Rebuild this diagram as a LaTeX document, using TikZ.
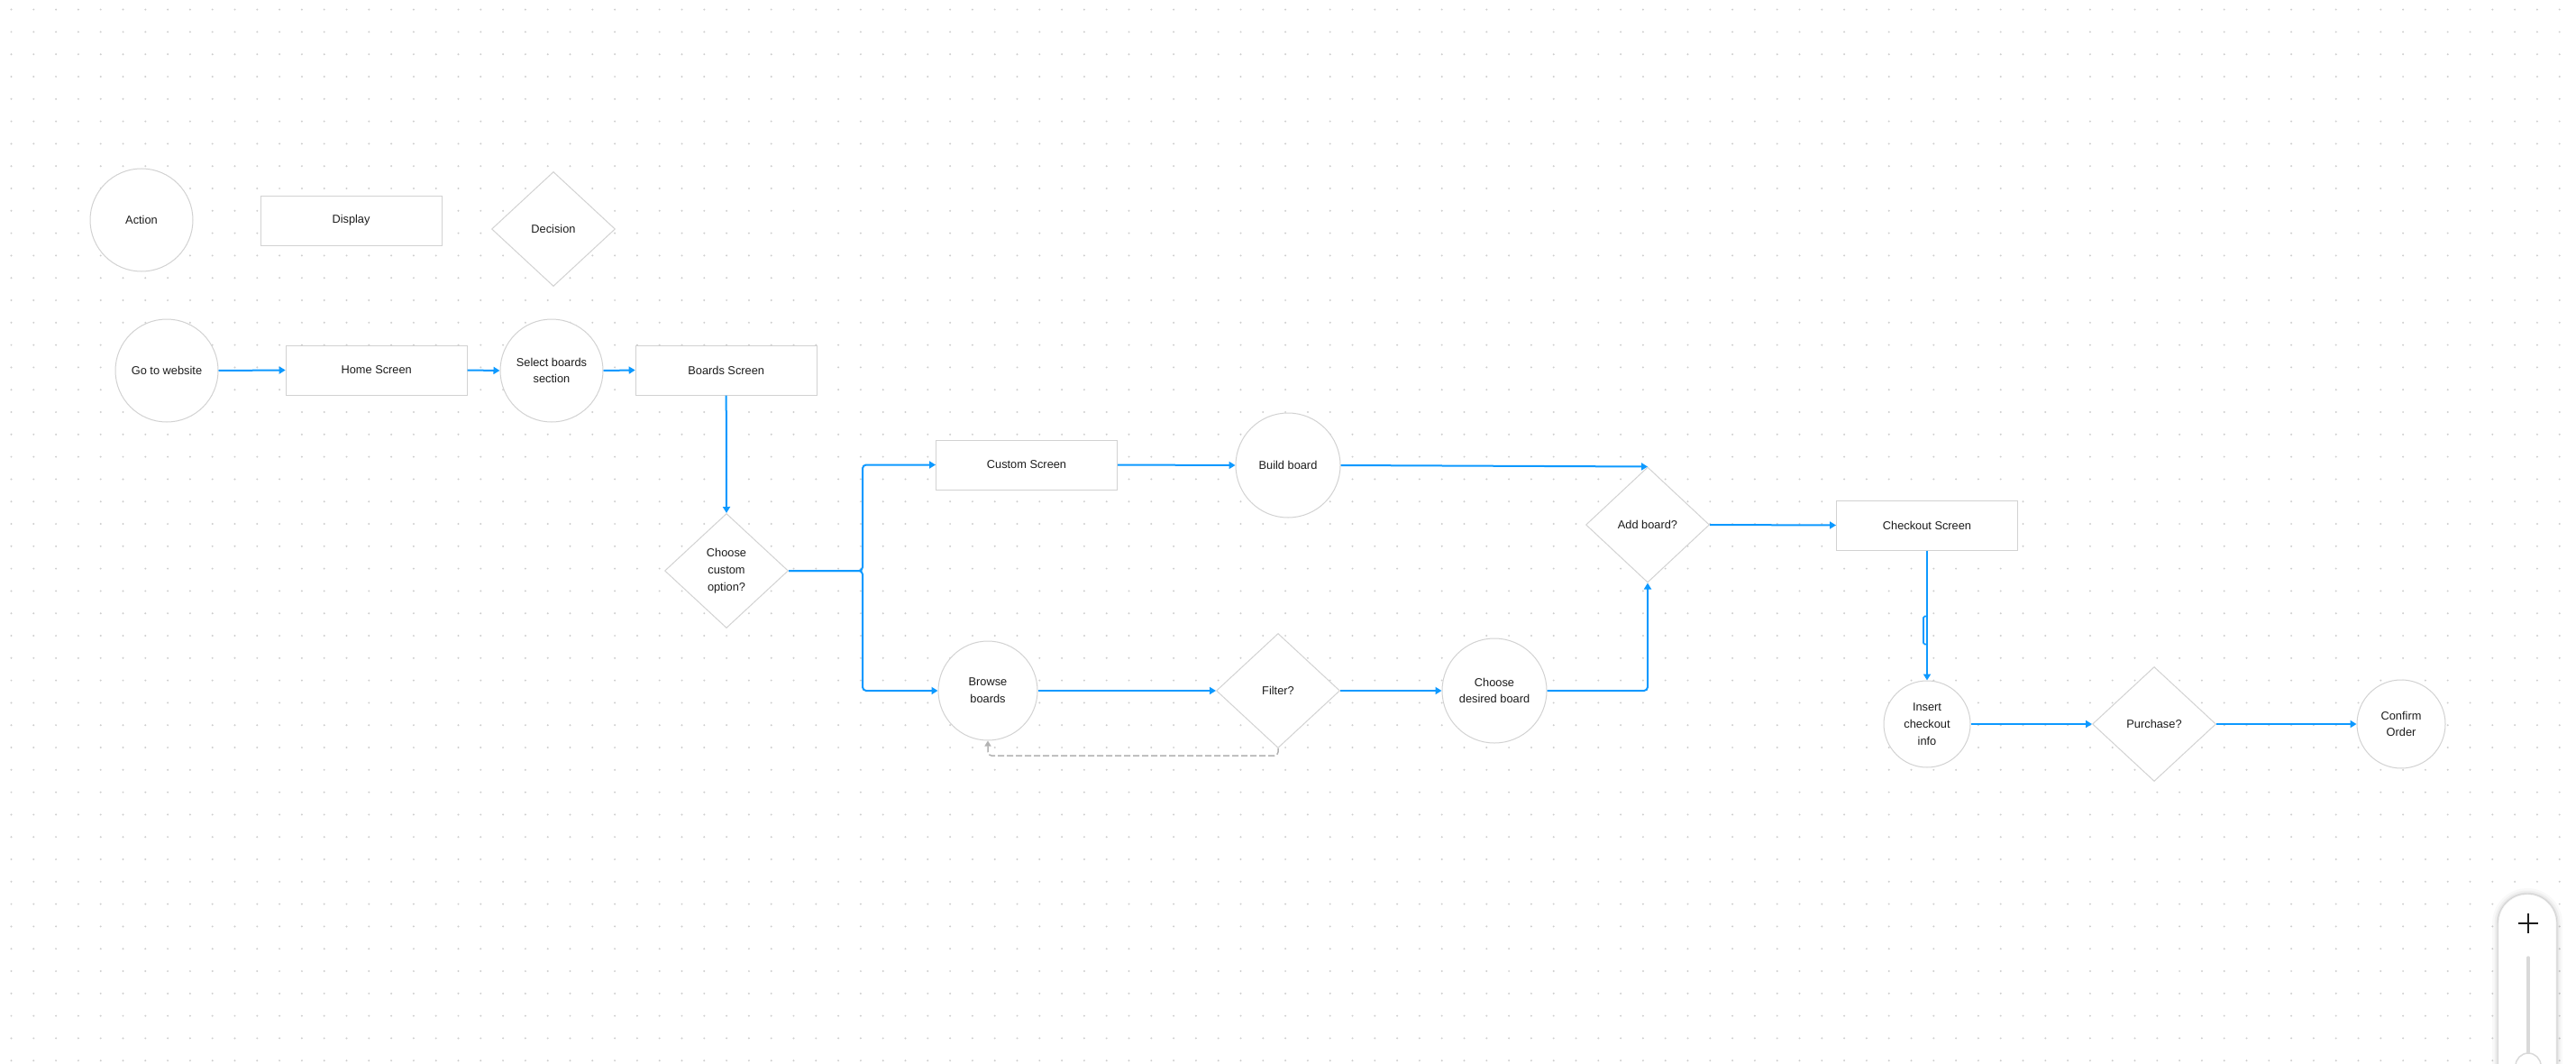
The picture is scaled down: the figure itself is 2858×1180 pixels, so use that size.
\documentclass[tikz,border=0pt]{standalone}
\usepackage{fontspec}
\setmainfont{Liberation Sans}
\usetikzlibrary{arrows.meta,shapes.geometric,calc}
\definecolor{flowblue}{RGB}{13,153,255}
\definecolor{shapegray}{RGB}{210,210,210}
\definecolor{dotc}{RGB}{206,206,206}
\definecolor{txt}{RGB}{28,28,28}
\definecolor{dashgray}{RGB}{178,178,178}
\definecolor{trackgray}{RGB}{217,217,217}
\newcommand\lblfont{\fontsize{12.8pt}{18.8pt}\selectfont}
\begin{document}
\begin{tikzpicture}[x=1pt,y=-1pt,
  base/.style={draw=shapegray, fill=white, line width=1pt, inner sep=0pt, align=center, font=\lblfont, text=txt},
  act/.style={base, circle, minimum size=#1},
  act/.default=114pt,
  disp/.style={base, rectangle, minimum width=201pt, minimum height=55pt},
  dec/.style={base, diamond, minimum width=137pt, minimum height=127pt},
  flow/.style={draw=flowblue, line width=2pt, rounded corners=4pt, -{Triangle[length=7pt,width=8pt]}},
  back/.style={draw=dashgray, line width=1.5pt, rounded corners=4pt, dash pattern=on 7pt off 3pt, -{Triangle[length=6pt,width=7pt]}}
]
\useasboundingbox (0,0) rectangle (2858,1180);
\clip (0,0) rectangle (2858,1180);
\fill[white] (0,0) rectangle (2858,1180);
% dotted canvas grid
\foreach \k in {0,...,47}{
  \draw[dotc, line width=2.2pt, line cap=round, dash pattern=on 0pt off 24.8pt] (12.5,{10.6+24.8*\k}) -- (2858,{10.6+24.8*\k});
}

% legend
\node[act] (action) at (157,244) {Action};
\node[disp] (display) at (389.5,244.5) {Display};
\node[dec] (decision) at (614,254) {Decision};

% main flow
\node[act] (web) at (185,411) {Go to website};
\node[disp] (home) at (417.7,410.5) {Home Screen};
\node[act] (select) at (612,411) {Select boards\\section};
\node[disp] (boards) at (805.7,410.5) {Boards Screen};
\node[dec] (choose) at (806,633) {Choose\\custom\\option?};
\node[disp] (custom) at (1139,515.5) {Custom Screen};
\node[act=116pt] (build) at (1429,516) {Build board};
\node[act=110pt] (browse) at (1096,766) {Browse\\boards};
\node[dec] (filter) at (1418,766) {Filter?};
\node[act=116pt] (desired) at (1658,766) {Choose\\desired board};
\node[dec, minimum height=128pt] (add) at (1828,582) {Add board?};
\node[disp] (checkout) at (2138,582.5) {Checkout Screen};
\node[act=96pt] (insert) at (2138,803) {Insert\\checkout\\info};
\node[dec] (purchase) at (2390,803) {Purchase?};
\node[act=98pt] (confirm) at (2664,803) {Confirm\\Order};

\coordinate (bus) at (957,633);

% connectors
\draw[flow] (web.east) -- (home.west);
\draw[flow] (home.east) -- (select.west);
\draw[flow] (select.east) -- (boards.west);
\draw[flow] (boards.south) -- (choose.north);
\draw[flow] (choose.east) -- (bus) |- (custom.west);
\draw[flow] (choose.east) -- (bus) |- (browse.west);
\draw[flow] (custom.east) -- (build.west);
\draw[flow] (build.east) -- (add.north);
\draw[flow] (browse.east) -- (filter.west);
\draw[flow] (filter.east) -- (desired.west);
\draw[flow] (desired.east) -| (add.south);
\draw[back] (filter.south) -- ++(0,8) -| (browse.south);
\draw[flow] (add.east) -- (checkout.west);
\draw[flow] (checkout.south) -- (insert.north);
\draw[draw=flowblue, line width=1.6pt, rounded corners=1.5pt] ($(checkout.south)+(0,73)$) -- ++(-4,0) -- ++(0,31) -- ++(4,0);
\draw[flow] (insert.east) -- (purchase.west);
\draw[flow] (purchase.east) -- (confirm.west);

% zoom widget
\foreach \w/\o in {14/0.025,9/0.035,5/0.05,2.5/0.07}{
  \draw[black, opacity=\o, line width=\w pt, rounded corners=32pt] (2772,1240) rectangle (2836,992);
}
\draw[fill=white, draw=black!6, line width=0.6pt, rounded corners=32pt] (2772,1240) rectangle (2836,992);
\draw[txt, line width=1.8pt] (2794,1024) -- (2816,1024) (2805,1013) -- (2805,1035);
\draw[trackgray, line width=3.5pt, line cap=round] (2805,1062) -- (2805,1175);
\draw[fill=white, draw=trackgray, line width=1.5pt] (2805,1182) circle (14);
\end{tikzpicture}
\end{document}
